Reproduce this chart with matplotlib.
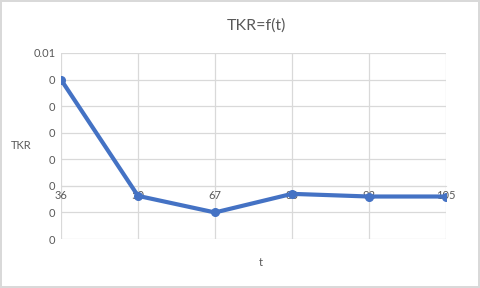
import numpy as np
import matplotlib.pyplot as plt

plt.rcParams['font.family'] = ['Lato', 'DejaVu Sans']

t_labels = ['36', '50', '67', '80', '92', '105']
tkr = [0.008, -0.00075, -0.002, -0.0006, -0.0008, -0.0008]
y_ticks = [-0.004, -0.002, 0.0, 0.002, 0.004, 0.006, 0.008, 0.01]
y_tick_labels = ['0', '0', '0', '0', '0', '0', '0', '0.01']

grey = '#595959'
grid = '#d9d9d9'

fig = plt.figure(figsize=(4.8, 2.88), dpi=100)
fig.patch.set_edgecolor('#d9d9d9')
fig.patch.set_linewidth(1.5)
ax = fig.add_axes([0.127, 0.170, 0.802, 0.646])

x = np.arange(len(t_labels))
ax.plot(x, tkr, color='#4472C4', lw=3.0, marker='o', ms=5.5, zorder=3)

ax.set_xlim(0, len(t_labels) - 1)
ax.set_ylim(y_ticks[0], y_ticks[-1])
ax.set_yticks(y_ticks)
ax.set_yticklabels(y_tick_labels)
ax.set_xticks(x)
ax.set_xticklabels(t_labels)

ax.grid(True, color=grid, lw=0.9)
ax.set_axisbelow(True)
for s in ['top', 'right', 'left']:
    ax.spines[s].set_visible(False)
ax.spines['bottom'].set_position(('data', 0))
ax.spines['bottom'].set_color(grid)
ax.tick_params(axis='both', length=0, colors=grey, labelsize=8)
ax.tick_params(axis='x', pad=3)
ax.tick_params(axis='y', pad=4)

fig.text(0.535, 0.91, 'TKR=f(t)', ha='center', va='center', fontsize=11.5, color=grey)
fig.text(0.045, 0.495, 'TKR', ha='center', va='center', fontsize=8, color=grey)
fig.text(0.543, 0.09, 't', ha='center', va='center', fontsize=8, color=grey)

fig.savefig('out.png', dpi=100)
